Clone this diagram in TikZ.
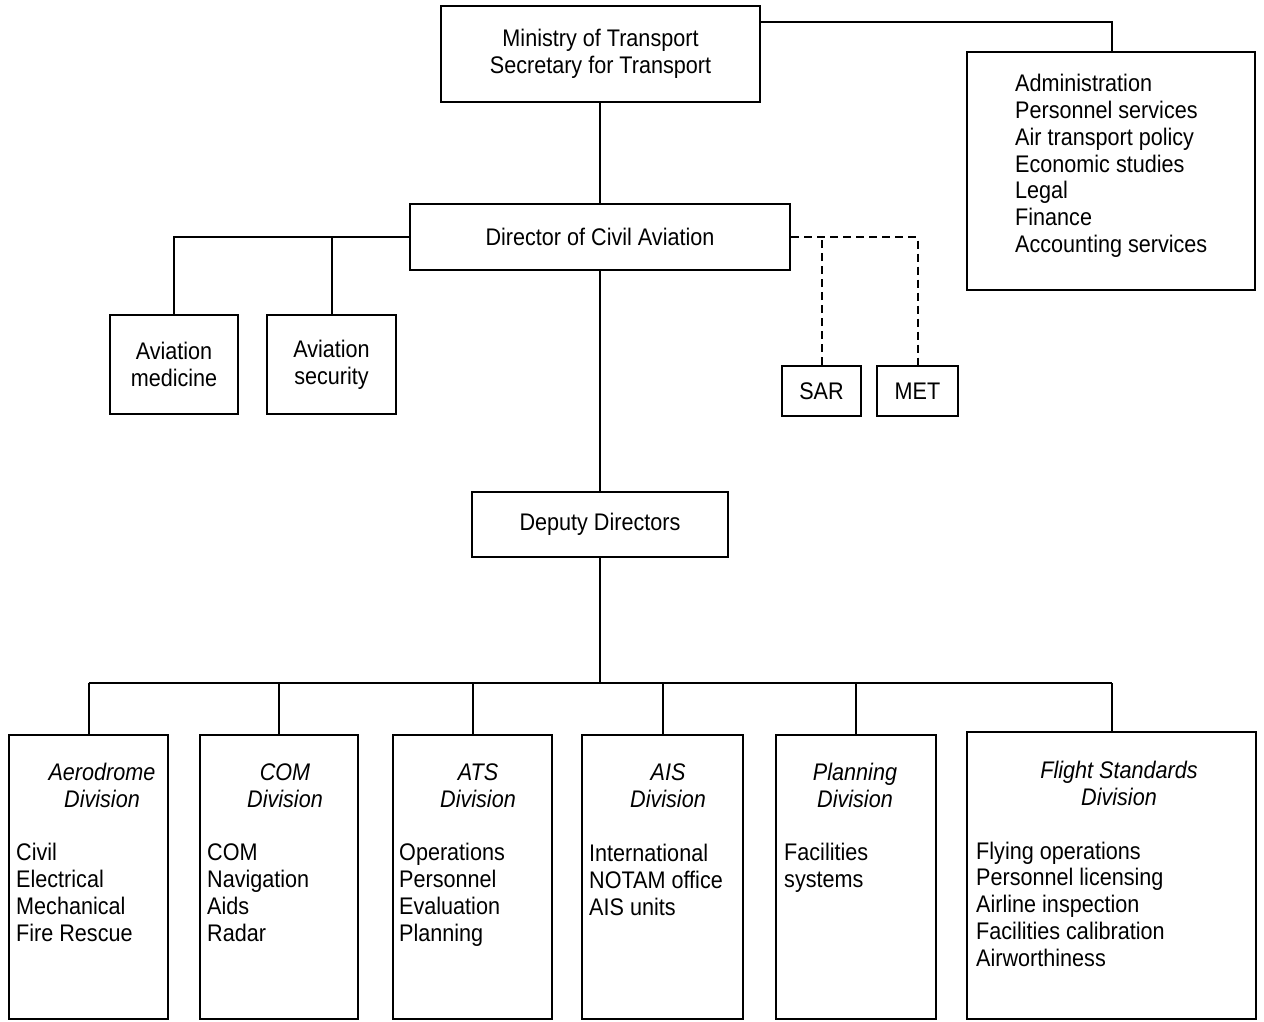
\documentclass[tikz,border=0pt]{standalone}
\usepackage{fontspec}
\setmainfont{Liberation Sans}[FakeStretch=0.9]
\newcommand\orgfont{\fontsize{24}{26.8}\selectfont}
\tikzset{
  box/.style={draw, line width=2pt, rectangle, inner sep=0pt, align=center, font=\orgfont},
  lbl/.style={inner sep=0pt, align=left, font=\orgfont, anchor=west, execute at begin node=\strut, execute at end node=\strut},
  ttl/.style={inner sep=0pt, align=center, font=\orgfont\itshape, execute at begin node=\strut, execute at end node=\strut},
  conn/.style={line width=2pt},
  dconn/.style={line width=2pt, dash pattern=on 8pt off 5pt},
}
\newcommand\orgbox[6]{\node[box, minimum width={(#4-#2)*1pt}, minimum height={(#5-#3)*1pt}] (#1) at ({(#2+#4)/2},{(#3+#5)/2}) {#6};}
\begin{document}
\begin{tikzpicture}[x=1pt,y=-1pt]
\useasboundingbox[fill=white] (0,0) rectangle (1264,1021);
% boxes
\orgbox{ministry}{441}{6}{760}{102}{Ministry of Transport\\Secretary for Transport}
\orgbox{admin}{967}{52}{1255}{290}{}
\node[lbl] (admintxt) at (1015,167.5) {Administration\\Personnel services\\Air transport policy\\Economic studies\\Legal\\Finance\\Accounting services};
\orgbox{director}{410}{204}{790}{270}{Director of Civil Aviation}
\orgbox{avmed}{110}{315}{238}{414}{Aviation\\medicine}
\orgbox{avsec}{267}{315}{396}{414}{Aviation\\security}
\orgbox{sar}{782}{366}{861}{416}{SAR}
\orgbox{met}{877}{366}{958}{416}{MET}
\orgbox{deputy}{472}{492}{728}{557}{Deputy Directors}
\orgbox{aero}{9}{735}{168}{1019}{}
\orgbox{com}{200}{735}{358}{1019}{}
\orgbox{ats}{393}{735}{552}{1019}{}
\orgbox{ais}{582}{735}{743}{1019}{}
\orgbox{plan}{776}{735}{936}{1019}{}
\orgbox{fs}{967}{732}{1256}{1019}{}
% division titles
\node[ttl] (aerot) at (102,789.5) {Aerodrome\\Division};
\node[ttl] (comt) at (285,789.5) {COM\\Division};
\node[ttl] (atst) at (478,789.5) {ATS\\Division};
\node[ttl] (aist) at (668,789.5) {AIS\\Division};
\node[ttl] (plant) at (855,789.5) {Planning\\Division};
\node[ttl] (fst) at (1119,787) {Flight Standards\\Division};
% division bodies
\node[lbl] (aerob) at (16,896.5) {Civil\\Electrical\\Mechanical\\Fire Rescue};
\node[lbl] (comb) at (207,896.5) {COM\\Navigation\\Aids\\Radar};
\node[lbl] (atsb) at (399,896.5) {Operations\\Personnel\\Evaluation\\Planning};
\node[lbl] (aisb) at (589,884) {International\\NOTAM office\\AIS units};
\node[lbl] (planb) at (784,869.5) {Facilities\\systems};
\node[lbl] (fsb) at (976,908) {Flying operations\\Personnel licensing\\Airline inspection\\Facilities calibration\\Airworthiness};
% connectors
\coordinate (c1) at (1112,22);
\draw[conn] (ministry.east |- c1) -- (c1) -- (admin.north -| c1);
\draw[conn] (ministry.south -| director.north) -- (director.north);
\draw[conn] (director.west) -| (avmed.north);
\draw[conn] (avsec.north) -- (avsec.north |- director.west);
\draw[dconn] (director.east) -| (met.north);
\draw[dconn] (sar.north) -- (sar.north |- director.east);
\draw[conn] (director.south) -- (deputy.north);
\coordinate (bus) at (600,683);
\draw[conn] (deputy.south) -- (bus);
\draw[conn] (aero.north |- bus) -- (fs.north |- bus);
\foreach \d in {aero,com,ats,ais,plan,fs} {\draw[conn] (\d.north) -- (\d.north |- bus);}
\end{tikzpicture}
\end{document}
